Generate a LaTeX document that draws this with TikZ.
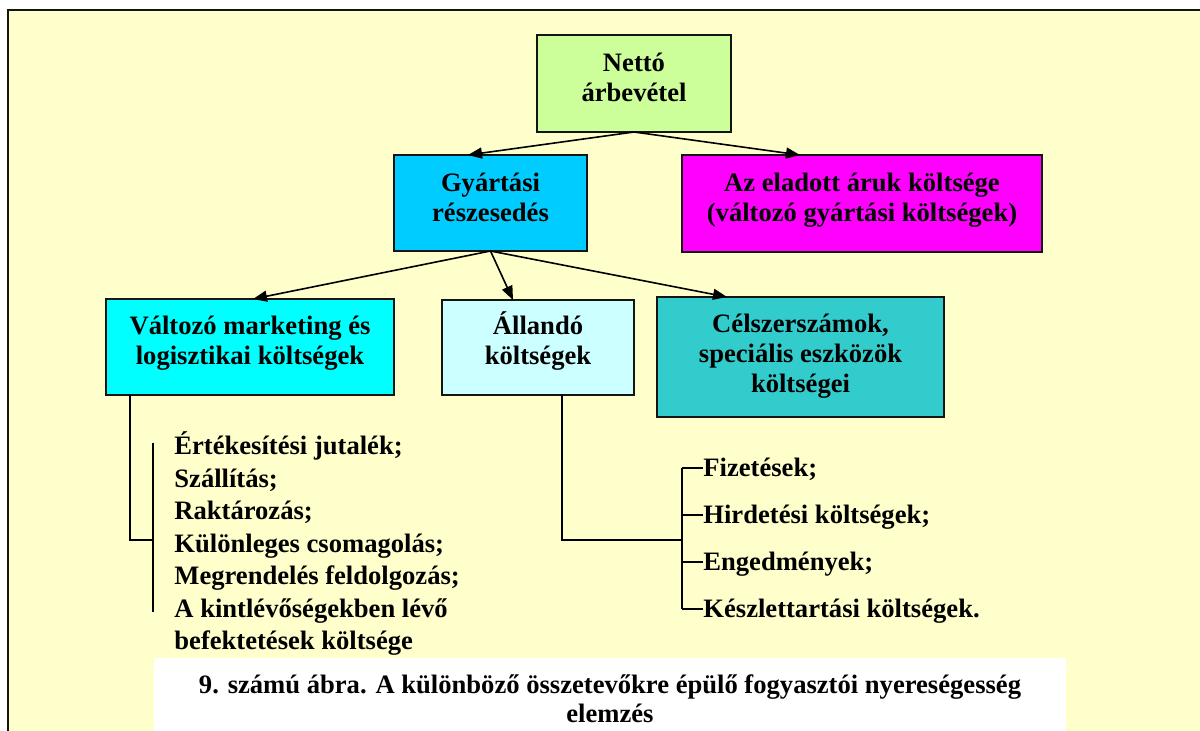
\documentclass[tikz,border=0pt]{standalone}
\usepackage{fontspec}
\setmainfont{Liberation Serif}
\usetikzlibrary{arrows.meta}

\definecolor{bgyellow}{HTML}{FFFFCC}
\definecolor{cnetto}{HTML}{CCFF99}
\definecolor{cgyart}{HTML}{00CCFF}
\definecolor{celadott}{HTML}{FF00FF}
\definecolor{cvaltozo}{HTML}{00FFFF}
\definecolor{callando}{HTML}{CCFFFF}
\definecolor{ccelsz}{HTML}{33CCCC}
\definecolor{edge}{HTML}{141414}

\begin{document}
\begin{tikzpicture}[x=0.5pt,y=-0.5pt,
  box/.style={draw=edge, line width=1pt, inner sep=0pt, outer sep=0pt},
  boxtxt/.style={font=\fontsize{13.3}{15}\selectfont\bfseries, align=center, inner sep=0pt},
  captxt/.style={font=\fontsize{13.3}{14.5}\selectfont\bfseries, align=center, inner sep=0pt},
  itemtxt/.style={font=\fontsize{13.3}{16}\selectfont\bfseries, inner sep=0pt, anchor=base west},
  tickitem/.style={font=\fontsize{13.3}{16}\selectfont\bfseries, inner sep=0pt, anchor=west,
    text height=9pt, text depth=0pt},
  arr/.style={draw=black, line width=0.8pt, -{Triangle[length=7pt,width=5.5pt]}},
  link/.style={draw=black, line width=0.8pt}]

\useasboundingbox (0,0) rectangle (1200,731);

% page background and frame
\fill[bgyellow] (8,10) rectangle (1200,731);
\draw[line width=1pt, edge] (8,731) -- (8,10) -- (1200,10);

% boxes
\node[box, fill=cnetto, minimum width=97pt, minimum height=48.5pt] (netto) at (634,83.5) {};
\node[boxtxt] (netto-t) at ([yshift=3.1pt]netto.center) {Nettó\\árbevétel};

\node[box, fill=cgyart, minimum width=96.5pt, minimum height=48pt] (gyart) at (490.5,203) {};
\node[boxtxt] (gyart-t) at ([yshift=2.9pt]gyart.center) {Gyártási\\részesedés};

\node[box, fill=celadott, minimum width=180pt, minimum height=48.5pt] (eladott) at (862,203.5) {};
\node[boxtxt] (eladott-t) at ([yshift=1.65pt]eladott.center) {Az eladott áruk költsége\\(változó gyártási költségek)};

\node[box, fill=cvaltozo, minimum width=144pt, minimum height=48pt] (valtozo) at (250,347) {};
\node[boxtxt] (valtozo-t) at ([yshift=1.9pt]valtozo.center) {Változó marketing és\\logisztikai költségek};

\node[box, fill=callando, minimum width=96pt, minimum height=47.5pt] (allando) at (538,347.5) {};
\node[boxtxt] (allando-t) at ([yshift=3.2pt]allando.center) {Állandó\\költségek};

\node[box, fill=ccelsz, minimum width=143.5pt, minimum height=60pt] (celsz) at (800.5,357) {};
\node[boxtxt] (celsz-t) at ([yshift=0.4pt]celsz.center) {Célszerszámok,\\speciális eszközök\\költségei};

% arrows
\draw[arr] (netto.south) -- ([xshift=-11.25pt]gyart.north);
\draw[arr] (netto.south) -- ([xshift=-31pt]eladott.north);
\draw[arr] (gyart.south) -- ([xshift=1.5pt]valtozo.north);
\draw[arr] (gyart.south) -- ([xshift=-12.5pt]allando.north);
\draw[arr] (gyart.south) -- ([xshift=-36.75pt]celsz.north);

% variable marketing cost items
\node[itemtxt] (l1) at (174,455) {Értékesítési jutalék;};
\node[itemtxt] (l2) at (174,487.5) {Szállítás;};
\node[itemtxt] (l3) at (174,520) {Raktározás;};
\node[itemtxt] (l4) at (174,552.5) {Különleges csomagolás;};
\node[itemtxt] (l5) at (174,585) {Megrendelés feldolgozás;};
\node[itemtxt] (l6) at (174,617.5) {A kintlévőségekben lévő};
\node[itemtxt] (l7) at (174,650) {befektetések költsége};

\coordinate (lb-top) at (153,443);
\coordinate (lb-mid) at (153,540);
\coordinate (lb-bot) at (153,612);
\draw[link] (lb-top) -- (lb-bot);
\draw[link] ([xshift=12pt]valtozo.south west) |- (lb-mid);

% fixed cost items
\node[tickitem] (r1) at (703,468) {Fizetések;};
\node[tickitem] (r2) at (703,515) {Hirdetési költségek;};
\node[tickitem] (r3) at (703,562) {Engedmények;};
\node[tickitem] (r4) at (703,609) {Készlettartási költségek.};

\coordinate (rb-mid) at (682,540);
\draw[link] ([xshift=60pt]allando.south west) |- (rb-mid);
\draw[link] (r1.west -| rb-mid) -- (r4.west -| rb-mid);
\foreach \r in {r1,r2,r3,r4}
  \draw[link] (\r.west -| rb-mid) -- (\r.west);

% caption
\node[fill=white, inner sep=0pt, minimum width=456pt, minimum height=36.5pt] (capbox) at (610,694.5) {};
\node[captxt] (caption) at (610,698.75)
  {9. számú ábra. A különböző összetevőkre épülő fogyasztói nyereségesség\\elemzés};

\end{tikzpicture}
\end{document}
